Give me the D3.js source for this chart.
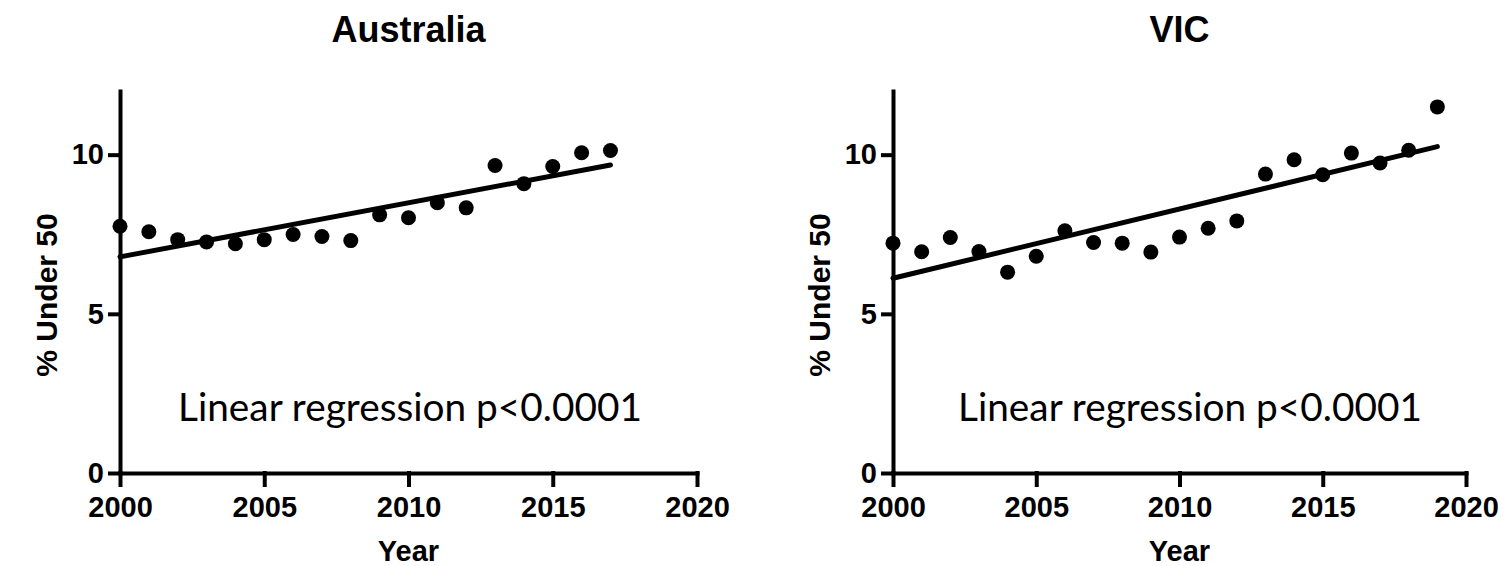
<!DOCTYPE html>
<html>
<head>
<meta charset="utf-8">
<script src="https://cdn.jsdelivr.net/npm/d3@7/dist/d3.min.js"></script>
<style>
    body { margin: 0; background: #fff; }
    svg text { font-family: Arial, "Liberation Sans", sans-serif; fill: #000; }
</style>
</head>
<body>
<div id="svganchor"></div>
<script>
let width = 1506;
let height = 566;

// Values (% under 50 by year)
let ausYears = [2000, 2001, 2002, 2003, 2004, 2005, 2006, 2007, 2008, 2009, 2010, 2011, 2012, 2013, 2014, 2015, 2016, 2017];
let ausValues = [7.75, 7.58, 7.33, 7.26, 7.20, 7.33, 7.49, 7.43, 7.30, 8.11, 8.02, 8.49, 8.33, 9.66, 9.09, 9.63, 10.06, 10.13];

let vicYears = [2000, 2001, 2002, 2003, 2004, 2005, 2006, 2007, 2008, 2009, 2010, 2011, 2012, 2013, 2014, 2015, 2016, 2017, 2018, 2019];
let vicValues = [7.22, 6.95, 7.40, 6.96, 6.31, 6.81, 7.61, 7.24, 7.22, 6.94, 7.41, 7.69, 7.92, 9.39, 9.84, 9.37, 10.05, 9.74, 10.14, 11.50];

let xTicks = [2000, 2005, 2010, 2015, 2020];
let yTicks = [0, 5, 10];
let xDomain = [2000, 2020];
let yDomain = [0, 12];

let titles = ["Australia", "VIC"];
let xLabel = "Year";
let yLabel = "% Under 50";
let statText = "Linear regression p<0.0001";

// Panel layout
let panels = [
    {title: titles[0], years: ausYears, values: ausValues, left: 120, right: 697, textX: 178},
    {title: titles[1], years: vicYears, values: vicValues, left: 893, right: 1466, textX: 958}
];
let plotTop = 91;
let plotBottom = 473;

let svg = d3.select("#svganchor")
    .append("svg")
    .attr("width", width)
    .attr("height", height);

// Least squares fit
function linreg(xs, ys) {
    let mx = d3.mean(xs), my = d3.mean(ys);
    let num = 0, den = 0;
    for (let i = 0; i < xs.length; i++) {
        num += (xs[i] - mx) * (ys[i] - my);
        den += (xs[i] - mx) * (xs[i] - mx);
    }
    let slope = num / den;
    return {slope: slope, intercept: my - slope * mx};
}

panels.forEach(function (p) {
    let g = svg.append("g");

    let xScale = d3.scaleLinear().domain(xDomain).range([p.left, p.right]);
    let yScale = d3.scaleLinear().domain(yDomain).range([plotBottom, plotTop]);

    let yAxis = d3.axisLeft(yScale)
        .tickValues(yTicks)
        .tickFormat(d3.format("d"))
        .tickSize(10)
        .tickSizeOuter(0)
        .tickPadding(6);

    let xAxis = d3.axisBottom(xScale)
        .tickValues(xTicks)
        .tickFormat(d3.format("d"))
        .tickSize(12)
        .tickSizeOuter(0)
        .tickPadding(11);

    g.append("g")
        .attr("transform", "translate(" + p.left + ",0)")
        .call(yAxis);

    g.append("g")
        .attr("transform", "translate(0," + plotBottom + ")")
        .call(xAxis);

    g.selectAll(".domain, .tick line")
        .attr("stroke", "#000")
        .attr("stroke-width", 4)
        .attr("stroke-linecap", "square");

    g.selectAll(".tick text")
        .style("font-size", "29px")
        .style("font-weight", "bold");

    // Regression line
    let fit = linreg(p.years, p.values);
    let x0 = d3.min(p.years), x1 = d3.max(p.years);
    g.append("line")
        .attr("x1", xScale(x0))
        .attr("y1", yScale(fit.intercept + fit.slope * x0))
        .attr("x2", xScale(x1))
        .attr("y2", yScale(fit.intercept + fit.slope * x1))
        .attr("stroke", "#000")
        .attr("stroke-width", 5)
        .attr("stroke-linecap", "round");

    // Points
    g.selectAll("circle")
        .data(p.years)
        .enter()
        .append("circle")
        .attr("cx", d => xScale(d))
        .attr("cy", (d, i) => yScale(p.values[i]))
        .attr("r", 7.5)
        .attr("fill", "#000");

    // Titles and labels
    let cx = (p.left + p.right) / 2;
    g.append("text")
        .attr("x", cx)
        .attr("y", 42)
        .attr("text-anchor", "middle")
        .style("font-size", "36px")
        .style("font-weight", "bold")
        .text(p.title);

    g.append("text")
        .attr("x", cx)
        .attr("y", 561)
        .attr("text-anchor", "middle")
        .style("font-size", "29px")
        .style("font-weight", "bold")
        .text(xLabel);

    g.append("text")
        .attr("transform", "translate(" + (p.left - 63) + "," + 295 + ") rotate(-90)")
        .attr("text-anchor", "middle")
        .style("font-size", "30px")
        .style("font-weight", "bold")
        .text(yLabel);

    g.append("text")
        .attr("x", p.textX)
        .attr("y", 421)
        .attr("textLength", 464)
        .attr("lengthAdjust", "spacingAndGlyphs")
        .style("font-family", "Lato, 'Open Sans', sans-serif")
        .style("font-size", "38px")
        .text(statText);
});
</script>
</body>
</html>
